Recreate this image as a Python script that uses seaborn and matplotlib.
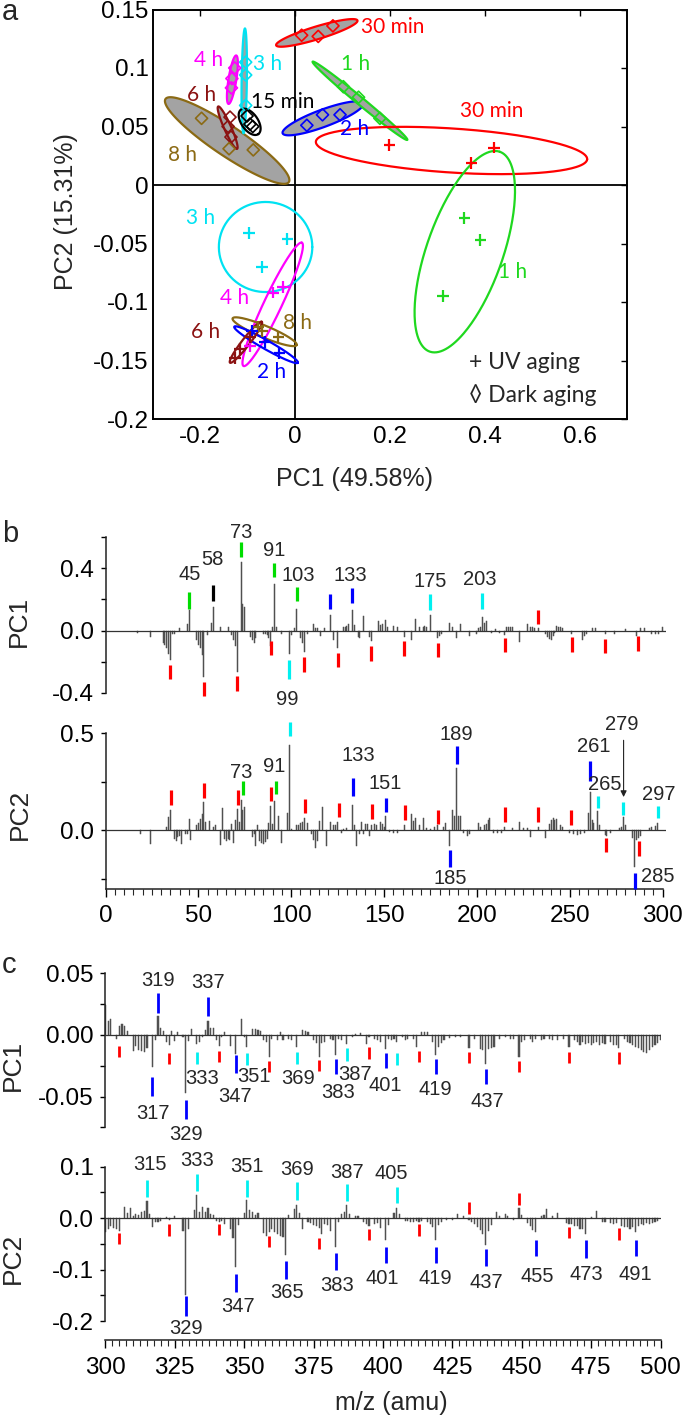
import numpy as np
import matplotlib
matplotlib.use("Agg")
import matplotlib.pyplot as plt
import seaborn as sns
import pandas as pd
from matplotlib import font_manager as fm

sns.set_style("white")
_names = {f.name for f in fm.fontManager.ttflist}
SANS = "Liberation Sans" if "Liberation Sans" in _names else "DejaVu Sans"
CAL = "Lato" if "Lato" in _names else SANS
plt.rcParams["font.family"] = [SANS, "DejaVu Sans"]

# ============ DATA : panel a (PCA scores) ============
groups = ["15 min", "30 min", "1 h", "2 h", "3 h", "4 h", "6 h", "8 h"]
group_colors = ["#000000", "#ff0000", "#1fd81f", "#0000ff", "#00e2f2", "#ff00ff", "#8b1212", "#8b6a14"]

uv_group = ["30 min"]*3 + ["1 h"]*3 + ["3 h"]*3 + ["4 h"]*3 + ["8 h"]*3 + ["2 h"]*3 + ["6 h"]*3
uv_pc1 = [0.199, 0.372, 0.420, 0.357, 0.391, 0.312, -0.097, -0.016, -0.070,
          -0.047, -0.025, -0.095, -0.035, -0.077, -0.070, -0.033, -0.063, -0.090,
          -0.116, -0.095, -0.127]
uv_pc2 = [0.034, 0.019, 0.032, -0.028, -0.047, -0.095, -0.041, -0.046, -0.070,
          -0.092, -0.087, -0.138, -0.130, -0.121, -0.125, -0.144, -0.134, -0.125,
          -0.140, -0.130, -0.148]

dark_group = ["30 min"]*3 + ["1 h"]*3 + ["2 h"]*3 + ["3 h"]*3 + ["4 h"]*3 + ["6 h"]*3 + ["8 h"]*3 + ["15 min"]*3
dark_pc1 = [0.014, 0.049, 0.080, 0.102, 0.134, 0.179, 0.025, 0.058, 0.095,
            -0.104, -0.104, -0.104, -0.133, -0.134, -0.127, -0.141, -0.135, -0.137,
            -0.197, -0.139, -0.088, -0.101, -0.095, -0.089]
dark_pc2 = [0.128, 0.127, 0.136, 0.084, 0.075, 0.057, 0.051, 0.060, 0.060,
            0.105, 0.094, 0.068, 0.091, 0.083, 0.100, 0.050, 0.041, 0.058,
            0.057, 0.031, 0.030, 0.059, 0.052, 0.050]

# confidence ellipses: centre, semi-major axis vector (PC1, PC2 units), minor/major ratio
ell_kind = ["Dark"]*8 + ["UV"]*7
ell_group = ["8 h", "6 h", "4 h", "3 h", "15 min", "30 min", "2 h", "1 h",
             "30 min", "1 h", "3 h", "4 h", "8 h", "2 h", "6 h"]
ell_cx = [-0.143, -0.142, -0.132, -0.107, -0.0956, 0.046, 0.059, 0.137,
          0.330, 0.358, -0.062, -0.047, -0.064, -0.061, -0.1035]
ell_cy = [0.038, 0.049, 0.090, 0.089, 0.054, 0.130, 0.057, 0.072,
          0.0295, -0.057, -0.053, -0.102, -0.1254, -0.1365, -0.1344]
ell_d1 = [0.130, -0.0199, 0.0081, 0.0015, 0.0182, 0.0857, 0.085, 0.0998,
          0.286, 0.0739, 0.0985, 0.0615, 0.0675, 0.067, 0.0335]
ell_d2 = [-0.0355, 0.0181, 0.0207, 0.0448, -0.0105, 0.0106, 0.0128, -0.0334,
          -0.0075, 0.0854, 0.0, 0.0527, -0.0114, -0.0154, 0.0175]
ell_ratio = [0.2, 0.15, 0.16, 0.05, 0.55, 0.15, 0.2, 0.06,
             0.162, 0.36, 0.964, 0.13, 0.17, 0.12, 0.15]

a_labels = [("30 min", 0.206, 0.135), ("1 h", 0.127, 0.103), ("4 h", -0.183, 0.107),
            ("3 h", -0.058, 0.103), ("6 h", -0.197, 0.077), ("15 min", -0.026, 0.071),
            ("30 min", 0.414, 0.063), ("2 h", 0.125, 0.048), ("8 h", -0.238, 0.026),
            ("3 h", -0.199, -0.028), ("1 h", 0.458, -0.074), ("4 h", -0.127, -0.097),
            ("8 h", 0.005, -0.118), ("6 h", -0.188, -0.126), ("2 h", -0.049, -0.160)]

# ============ DATA : panel b (loadings, m/z 0-300) ============
b1_peaks = [(17,-0.017),(24,-0.04),(31,-0.08),(32,-0.09),(33,-0.115),(34,-0.15),(35,-0.19),
            (36,-0.02),(37,-0.02),(40,0.015),(44,0.04),(45,0.133),(49,-0.06),(50,-0.09),
            (51,-0.11),(52,-0.16),(53,-0.30),(55,-0.03),(57,0.05),(58,0.15),(62,0.025),
            (66,0.02),(68,-0.03),(69,-0.06),(70,-0.10),(71,-0.265),(73,0.439),(74,0.17),
            (75,0.15),(78,-0.04),(79,-0.06),(80,-0.08),(81,-0.05),(85,-0.02),(86,-0.025),
            (87,-0.03),(88,-0.05),(89,-0.10),(90,0.02),(91,0.30),(92,0.02),(95,-0.02),
            (99,-0.15),(100,-0.03),(102,0.015),(103,0.14),(105,-0.05),(106,-0.08),
            (107,-0.14),(109,-0.02),(112,0.04),(113,0.015),(114,0.015),(116,-0.035),
            (118,0.015),(121,0.10),(123,-0.06),(125,-0.115),(128,0.02),(129,0.025),
            (130,0.03),(131,0.04),(133,0.13),(134,0.035),(136,-0.04),(137,-0.05),
            (139,0.095),(142,-0.04),(143,-0.07),(147,0.06),(148,0.035),(149,0.04),
            (151,0.07),(152,0.025),(155,0.03),(157,0.02),(161,-0.04),(165,-0.06),
            (167,0.075),(169,0.025),(171,0.02),(172,0.03),(173,0.02),(175,0.097),
            (179,-0.05),(180,-0.035),(181,-0.025),(185,0.05),(187,0.02),(189,-0.047),
            (191,0.04),(196,-0.035),(200,-0.025),(201,0.015),(202,0.02),(203,0.088),
            (204,0.05),(205,0.06),(208,-0.015),(210,0.01),(212,-0.015),(215,-0.03),
            (216,0.02),(217,0.025),(218,0.02),(219,0.02),(223,-0.075),(227,0.045),
            (229,0.02),(230,0.025),(231,0.015),(233,0.018),(237,-0.025),(238,-0.04),
            (239,-0.054),(240,-0.058),(241,-0.036),(242,-0.015),(243,0.03),(244,0.025),
            (245,0.02),(246,0.015),(251,-0.02),(257,-0.058),(258,-0.032),(259,-0.02),
            (262,0.015),(264,0.015),(269,-0.025),(274,-0.025),(280,0.01),(286,-0.037),
            (288,0.015),(290,0.015),(294,-0.02),(296,-0.02),(298,-0.02),(300,0.02)]

b2_peaks = [(19,-0.017),(24,-0.072),(33,0.017),(34,0.069),(35,0.107),(37,-0.043),(38,-0.055),
            (39,-0.034),(40,-0.03),(41,-0.069),(43,-0.017),(44,-0.02),(45,0.06),(46,-0.048),
            (49,0.026),(50,0.04),(51,0.06),(52,0.085),(53,0.146),(54,0.045),(56,0.048),
            (58,0.017),(59,0.03),(62,-0.077),(63,0.115),(64,-0.043),(65,-0.052),(66,-0.043),
            (67,-0.048),(68,0.031),(69,-0.064),(70,0.052),(71,0.108),(72,0.043),(73,0.155),
            (74,0.103),(75,0.12),(79,-0.034),(80,-0.017),(81,-0.082),(82,0.026),(83,-0.052),
            (84,-0.065),(85,-0.069),(86,-0.06),(87,-0.043),(88,0.038),(89,0.125),(90,0.034),
            (91,0.15),(93,0.074),(95,-0.065),(98,0.089),(99,0.44),(100,0.01),(103,0.026),
            (104,0.03),(105,0.038),(106,0.043),(107,0.065),(109,0.038),(111,-0.017),
            (112,-0.048),(113,-0.089),(114,-0.055),(115,0.048),(117,0.12),(119,-0.081),
            (121,0.046),(123,0.026),(124,0.026),(125,0.043),(127,-0.014),(128,0.01),
            (130,0.014),(133,0.129),(134,0.03),(135,-0.082),(137,-0.02),(138,0.043),
            (139,-0.017),(140,0.031),(141,0.034),(142,-0.026),(143,0.026),(145,0.031),
            (146,0.026),(148,0.043),(149,0.034),(150,0.02),(151,0.077),(153,-0.01),
            (155,-0.014),(157,-0.012),(161,0.03),(165,0.084),(166,0.05),(167,0.064),
            (169,0.03),(171,0.064),(173,0.012),(175,0.01),(177,0.02),(179,0.03),(182,0.02),
            (183,0.038),(185,-0.082),(187,0.107),(188,0.076),(189,0.321),(190,0.076),
            (191,0.076),(193,-0.014),(195,-0.026),(196,-0.02),(201,0.038),(202,0.02),
            (204,0.03),(205,0.034),(206,0.055),(207,0.064),(209,-0.014),(211,-0.014),
            (213,-0.012),(215,0.02),(219,0.015),(223,0.046),(225,0.012),(227,0.012),
            (229,-0.031),(233,0.017),(237,-0.04),(239,0.034),(240,0.055),(241,0.064),
            (242,0.055),(243,0.058),(245,0.03),(246,0.02),(250,-0.014),(252,-0.02),
            (254,-0.024),(256,-0.02),(258,-0.012),(260,0.089),(261,0.20),(262,0.055),
            (263,0.038),(265,0.098),(266,0.03),(269,-0.022),(270,-0.027),(272,-0.014),
            (277,0.015),(278,0.017),(279,0.067),(280,0.03),(284,-0.04),(285,-0.186),
            (286,-0.048),(287,-0.04),(288,-0.028),(293,0.012),(294,0.02),(296,0.024),
            (297,0.04)]

# coloured fragment markers: (m/z, low, high, colour key)
b1_marks = [(35,-0.31,-0.22,"r"),(45,0.14,0.245,"g"),(53,-0.42,-0.33,"r"),(58,0.19,0.295,"k"),
            (71,-0.39,-0.29,"r"),(73,0.473,0.568,"g"),(89,-0.16,-0.067,"r"),(91,0.344,0.434,"g"),
            (99,-0.31,-0.19,"c"),(103,0.187,0.28,"g"),(107,-0.265,-0.172,"r"),(121,0.14,0.234,"b"),
            (125,-0.237,-0.142,"r"),(133,0.176,0.271,"b"),(143,-0.194,-0.099,"r"),
            (161,-0.161,-0.069,"r"),(175,0.135,0.232,"c"),(179,-0.172,-0.08,"r"),
            (203,0.14,0.243,"c"),(215,-0.14,-0.047,"r"),(233,0.043,0.135,"r"),
            (251,-0.138,-0.043,"r"),(269,-0.144,-0.054,"r"),(287,-0.131,-0.037,"r")]
b2_marks = [(35.3,0.129,0.206,"r"),(53.2,0.168,0.244,"r"),(71.2,0.132,0.206,"r"),(73.9,0.18,0.253,"g"),
            (89.1,0.151,0.223,"r"),(91.6,0.189,0.253,"g"),(99.4,0.485,0.558,"c"),(107.5,0.089,0.163,"r"),
            (125.5,0.069,0.143,"r"),(133.5,0.175,0.27,"b"),(143.3,0.06,0.134,"r"),(151.1,0.095,0.167,"b"),
            (161.3,0.055,0.129,"r"),(179.2,0.033,0.107,"r"),(189.1,0.342,0.433,"b"),(185.3,-0.19,-0.10,"b"),
            (215.1,0.043,0.119,"r"),(233.0,0.043,0.119,"r"),(250.9,0.029,0.107,"r"),(260.9,0.256,0.359,"b"),
            (265.4,0.115,0.179,"c"),(269.4,-0.113,-0.04,"r"),(278.9,0.081,0.144,"c"),(287.3,-0.129,-0.053,"r"),
            (285.2,-0.30,-0.22,"b"),(297.3,0.064,0.127,"c")]
b1_labels = [("45",45.5,0.359),("58",57.4,0.46),("73",73,0.63),("91",91,0.514),("103",104,0.353),
             ("133",132,0.353),("99",98,-0.443),("175",174.7,0.318),("203",201.6,0.329)]
b2_labels = [("73",73,0.297),("91",91,0.33),("133",136,0.387),("151",150.5,0.244),("189",189,0.493),
             ("185",185.5,-0.246),("261",262.7,0.433),("265",269,0.235),("279",278,0.545),
             ("297",297.8,0.184),("285",297.3,-0.237)]

# ============ DATA : panel c (loadings, m/z 300-500) ============
c1_peaks = [(300,0.024),(301,0.011),(302,0.013),(304,-0.003),(305,0.0076),(306,0.0086),(307,0.007),
            (308,0.003),(310,-0.0127),(311,-0.009),(312,-0.012),(313,-0.0127),(314,-0.014),
            (315,-0.011),(317,-0.026),(318,-0.004),(319,0.015),(320,0.0054),(321,0.0035),
            (322,-0.0054),(323,-0.008),(324,0.0035),(325,-0.005),(326,0.002),(328,-0.002),
            (329,-0.047),(330,-0.0046),(331,0.005),(333,-0.0073),(334,-0.0054),(335,-0.002),
            (336,0.004),(337,0.011),(338,0.0054),(339,0.0054),(340,-0.004),(341,-0.009),
            (342,-0.002),(343,0.0022),(345,-0.009),(347,-0.0154),(349,0.0127),(350,-0.002),
            (351,-0.01),(353,0.005),(354,0.005),(355,0.004),(356,0.003),(357,-0.004),
            (358,-0.0054),(359,-0.0176),(360,-0.003),(362,-0.004),(363,0.002),(364,-0.004),
            (366,-0.003),(367,-0.004),(369,-0.01),(371,0.004),(372,0.0035),(373,0.0027),
            (375,-0.004),(376,-0.0067),(377,-0.0176),(378,-0.0062),(379,-0.0054),(381,-0.003),
            (382,-0.004),(383,-0.016),(384,-0.003),(385,-0.004),(387,-0.0073),(389,-0.002),
            (390,0.001),(392,0.0015),(394,-0.0073),(395,-0.002),(397,-0.003),(398,-0.004),
            (399,-0.0054),(401,-0.0116),(402,-0.003),(403,-0.004),(404,-0.003),(405,-0.0054),
            (407,-0.002),(408,-0.004),(409,-0.0035),(411,-0.003),(412,-0.0095),(414,0.002),
            (415,0.0027),(416,0.0027),(418,-0.0054),(419,-0.016),(420,-0.0095),(421,-0.0067),
            (422,-0.004),(424,-0.0027),(426,-0.002),(428,-0.002),(431,-0.0108),(433,-0.003),
            (435,-0.0116),(436,-0.012),(437,-0.0235),(438,-0.0116),(439,-0.0108),(440,-0.01),
            (442,-0.003),(444,-0.002),(446,-0.003),(447,-0.003),(449,-0.0176),(450,-0.0054),
            (451,-0.004),(453,-0.003),(454,-0.0054),(455,-0.003),(457,-0.004),(458,-0.003),
            (460,-0.0035),(461,-0.004),(463,-0.004),(465,-0.003),(467,-0.01),(469,-0.004),
            (470,-0.0054),(471,-0.008),(472,-0.0054),(473,-0.0073),(474,-0.0067),(475,-0.008),
            (476,-0.0062),(477,-0.0054),(478,-0.008),(479,-0.0067),(480,-0.0073),(482,-0.006),
            (483,-0.0081),(484,-0.008),(485,-0.0108),(487,-0.0035),(488,-0.0054),(489,-0.0067),
            (490,-0.0081),(491,-0.0095),(492,-0.0108),(493,-0.0122),(494,-0.0135),(495,-0.0149),
            (496,-0.0122),(497,-0.0095),(498,-0.0081),(499,-0.0068),(500,-0.004)]

c2_peaks = [(300,-0.027),(301,-0.021),(302,-0.016),(303,-0.019),(304,-0.021),(305,-0.024),
            (307,0.021),(308,0.0097),(309,0.019),(310,0.005),(311,0.008),(312,0.007),(313,0.013),
            (314,0.014),(315,0.034),(316,0.009),(317,-0.017),(318,-0.008),(319,-0.008),(320,-0.005),
            (322,0.003),(323,-0.004),(325,0.004),(328,-0.024),(329,-0.149),(330,-0.021),(332,0.015),
            (333,0.045),(334,0.012),(335,0.021),(336,0.013),(337,0.02),(338,0.008),(339,0.006),
            (340,-0.005),(341,-0.008),(342,-0.005),(343,-0.011),(345,-0.021),(346,-0.038),
            (347,-0.095),(348,-0.014),(350,0.0097),(351,0.036),(352,0.016),(353,0.012),(354,0.007),
            (355,0.0097),(357,-0.029),(358,-0.034),(359,-0.027),(360,-0.021),(361,-0.026),
            (362,-0.03),(363,-0.034),(364,-0.037),(365,-0.072),(366,0.007),(368,0.018),(369,0.0265),
            (370,0.0097),(371,-0.02),(373,-0.008),(374,-0.01),(375,-0.014),(376,-0.016),(377,-0.019),
            (378,-0.03),(379,-0.012),(380,-0.014),(381,-0.024),(383,-0.056),(384,-0.008),(385,0.0084),
            (386,0.013),(387,0.0265),(388,0.0084),(390,0.005),(391,0.005),(393,-0.008),(394,-0.012),
            (395,-0.016),(397,-0.011),(398,-0.01),(399,-0.019),(401,-0.043),(402,-0.014),(404,0.0097),
            (405,0.02),(406,0.0084),(408,-0.005),(409,-0.006),(410,-0.008),(411,-0.007),(412,-0.005),
            (413,-0.008),(414,-0.006),(416,-0.008),(417,-0.012),(418,-0.017),(419,-0.043),(420,-0.014),
            (421,-0.008),(423,-0.004),(425,-0.003),(427,0.0084),(429,0.005),(431,-0.003),(432,-0.008),
            (433,-0.012),(434,-0.017),(435,-0.022),(436,-0.03),(437,-0.053),(438,-0.024),(439,-0.014),
            (441,0.013),(442,0.005),(444,0.0084),(445,0.005),(447,-0.003),(449,0.02),(450,0.007),
            (452,-0.01),(453,-0.016),(454,-0.022),(455,-0.027),(457,0.004),(458,0.006),(459,0.018),
            (461,0.004),(463,0.0097),(466,-0.01),(467,-0.011),(468,-0.012),(469,-0.016),(470,-0.016),
            (471,-0.021),(472,-0.02),(473,-0.03),(475,0.003),(477,0.0136),(479,-0.008),(480,-0.008),
            (482,-0.01),(483,-0.012),(484,-0.01),(486,-0.016),(487,-0.017),(488,-0.018),(489,-0.02),
            (490,-0.018),(491,-0.027),(492,-0.015),(493,-0.012),(494,-0.014),(495,-0.01),(496,-0.012),
            (497,-0.01),(498,-0.007),(499,-0.006)]

c1_marks = [(305,-0.0176,-0.0089,"r"),(317,-0.0495,-0.0343,"b"),(319,0.0181,0.0338,"b"),
            (323,-0.0235,-0.0143,"r"),(329,-0.0684,-0.0527,"b"),(333,-0.0235,-0.0135,"c"),
            (337,0.0154,0.0311,"b"),(341,-0.0224,-0.0127,"r"),(347,-0.0311,-0.0162,"b"),
            (351,-0.0243,-0.0149,"c"),(359,-0.030,-0.0208,"r"),(369,-0.0235,-0.0135,"c"),
            (377,-0.0297,-0.0203,"r"),(383,-0.0319,-0.0197,"b"),(387,-0.0208,-0.0108,"c"),
            (395,-0.0195,-0.010,"r"),(401,-0.027,-0.0149,"b"),(405,-0.0243,-0.0149,"c"),
            (413,-0.0216,-0.0127,"r"),(419,-0.0316,-0.0195,"b"),(431,-0.023,-0.014,"r"),
            (437,-0.0397,-0.0278,"b"),(449,-0.0303,-0.0208,"r"),(467,-0.023,-0.0135,"r"),
            (485,-0.0235,-0.014,"r")]
c2_marks = [(305,-0.051,-0.029,"r"),(315,0.041,0.074,"c"),(323,-0.034,-0.012,"r"),
            (329,-0.189,-0.152,"b"),(333,0.052,0.085,"c"),(341,-0.032,-0.011,"r"),
            (347,-0.144,-0.108,"b"),(351,0.041,0.074,"c"),(359,-0.055,-0.034,"r"),
            (365,-0.118,-0.084,"b"),(369,0.036,0.070,"c"),(377,-0.060,-0.038,"r"),
            (383,-0.100,-0.067,"b"),(387,0.034,0.067,"c"),(395,-0.042,-0.021,"r"),
            (401,-0.087,-0.055,"b"),(405,0.029,0.061,"c"),(413,-0.034,-0.012,"r"),
            (419,-0.087,-0.055,"b"),(431,0.0084,0.031,"r"),(437,-0.092,-0.060,"b"),
            (449,0.0265,0.0485,"r"),(455,-0.074,-0.042,"b"),(467,-0.039,-0.0175,"r"),
            (473,-0.077,-0.043,"b"),(485,-0.042,-0.019,"r"),(491,-0.074,-0.042,"b")]
c1_labels = [("319",319,0.044),("337",337,0.0424),("317",317,-0.064),("329",329,-0.081),
             ("333",335,-0.035),("351",353.5,-0.0338),("347",346.7,-0.050),("369",369.4,-0.035),
             ("383",383.7,-0.0468),("387",390,-0.0324),("401",400.7,-0.0414),("419",418.7,-0.0446),
             ("437",437.5,-0.054)]
c2_labels = [("315",316,0.105),("333",333,0.113),("351",351,0.100),("369",369,0.094),
             ("387",387,0.089),("405",403,0.086),("329",329,-0.215),("347",347.7,-0.172),
             ("365",365.5,-0.144),("383",383.6,-0.131),("401",399.7,-0.118),("419",418.8,-0.118),
             ("437",437.4,-0.124),("455",455.5,-0.113),("473",473.4,-0.109),("491",491,-0.109)]

# ============ STYLE ============
MK = {"r": "#ff0000", "g": "#00dd00", "b": "#0000ff", "c": "#00f0f0", "k": "#000000"}
BAR = "#505050"
W, H = 685, 1420
fig = plt.figure(figsize=(W / 100, H / 100), dpi=100)
cmap = dict(zip(groups, group_colors))


def add_ax(l, t, r, b):
    return fig.add_axes([l / W, 1 - b / H, (r - l) / W, (b - t) / H])


def ftext(x, y, s, **kw):
    fig.text(x / W, 1 - y / H, s, **kw)


# ---------------- panel a ----------------
axa = add_ax(152.7, 9.5, 627, 419)
axa.set_xlim(-0.3, 0.7)
axa.set_ylim(-0.2, 0.15)
axa.axhline(0, color="k", lw=1.3, zorder=1)
axa.axvline(0, color="k", lw=1.3, zorder=1)
for sp in axa.spines.values():
    sp.set_linewidth(1.4)
    sp.set_color("k")
axa.set_xticks([-0.2, 0, 0.2, 0.4, 0.6])
axa.set_xticklabels(["-0.2", "0", "0.2", "0.4", "0.6"])
axa.set_yticks([-0.2, -0.15, -0.1, -0.05, 0, 0.05, 0.1, 0.15])
axa.set_yticklabels(["-0.2", "-0.15", "-0.1", "-0.05", "0", "0.05", "0.1", "0.15"])
axa.tick_params(direction="in", length=4, width=1, top=True, right=True,
                labelsize=17.5, pad=5, colors="k")
axa.tick_params(axis="y", pad=3)

T = axa.transData
Tinv = T.inverted()
t = np.linspace(0, 2 * np.pi, 240)
for kind, g, cx, cy, d1, d2, r in zip(ell_kind, ell_group, ell_cx, ell_cy, ell_d1, ell_d2, ell_ratio):
    c = T.transform((cx, cy))
    e = T.transform((cx + d1, cy + d2)) - c
    n = np.array([-e[1], e[0]]) * r
    pts = c + np.outer(np.cos(t), e) + np.outer(np.sin(t), n)
    dpts = Tinv.transform(pts)
    col = cmap[g]
    if kind == "Dark" and g != "15 min":
        axa.fill(dpts[:, 0], dpts[:, 1], facecolor="#a3a3a3", edgecolor=col, lw=1.6, zorder=2)
    else:
        axa.plot(dpts[:, 0], dpts[:, 1], color=col, lw=1.6, zorder=3)

df_dark = pd.DataFrame({"pc1": dark_pc1, "pc2": dark_pc2, "group": dark_group})
sns.scatterplot(data=df_dark, x="pc1", y="pc2", hue="group", palette=cmap, marker="D",
                s=38, linewidth=1.2, legend=False, ax=axa, zorder=4)
pc = axa.collections[-1]
pc.set_edgecolors(pc.get_facecolors())
pc.set_facecolors("none")

df_uv = pd.DataFrame({"pc1": uv_pc1, "pc2": uv_pc2, "group": uv_group})
sns.scatterplot(data=df_uv, x="pc1", y="pc2", hue="group", palette=cmap, marker="+",
                s=70, linewidth=1.6, legend=False, ax=axa, zorder=5)

for s, x, y in a_labels:
    axa.text(x, y, s, color=cmap[s], fontsize=15, family=[CAL, "DejaVu Sans"],
             ha="center", va="center", zorder=6)
axa.text(0.366, -0.152, "+ UV aging", fontsize=16.5, family=[CAL, "DejaVu Sans"],
         ha="left", va="center")
axa.text(0.366, -0.1795, "\u25ca Dark aging", fontsize=16.5, family=[CAL, "DejaVu Sans"],
         ha="left", va="center")
axa.set_xlabel("")
axa.set_ylabel("")
ftext(354, 479, "PC1 (49.58%)", fontsize=18, ha="center", va="center")
ftext(66, 212, "PC2 (15.31%)", fontsize=18, ha="center", va="center", rotation=90)


# ---------------- helpers for loading panels ----------------
def draw_bars(ax, peaks, width):
    mz = [p[0] for p in peaks]
    val = [p[1] for p in peaks]
    sns.barplot(x=mz, y=val, native_scale=True, width=width, color=BAR, saturation=1,
                errorbar=None, linewidth=0.35, edgecolor=BAR, ax=ax, orient="x", zorder=2)
    ax.set_xlabel("")
    ax.set_ylabel("")


def draw_marks(ax, marks, lw):
    ax.vlines([m[0] for m in marks], [m[1] for m in marks], [m[2] for m in marks],
              colors=[MK[m[3]] for m in marks], linewidth=lw, capstyle="butt",
              zorder=5, clip_on=False)


def draw_labels(ax, labels):
    for s, x, y in labels:
        ax.text(x, y, s, fontsize=14.5, ha="center", va="center", zorder=6, clip_on=False)


def style_left(ax, major, minor, labels):
    ax.set_yticks(major)
    ax.set_yticklabels(labels)
    ax.set_yticks(minor, minor=True)
    ax.tick_params(axis="y", which="both", direction="out", length=3.5, width=1,
                   labelsize=17.5, pad=5, left=True, colors="k")
    ax.spines["left"].set_linewidth(1.1)
    ax.spines["left"].set_color("#222222")
    for s in ["top", "right"]:
        ax.spines[s].set_visible(False)


# ---------------- panel b ----------------
axb1 = add_ax(105.5, 537.3, 666.3, 692.7)
draw_bars(axb1, b1_peaks, 0.55)
axb1.set_xlim(0, 302)
axb1.set_ylim(-0.4, 0.6)
axb1.axhline(0, color="#333333", lw=0.9, zorder=3)
style_left(axb1, [-0.4, 0.0, 0.4], [-0.2, 0.2, 0.6], ["-0.4", "0.0", "0.4"])
axb1.spines["bottom"].set_visible(False)
axb1.set_xticks([])
draw_marks(axb1, b1_marks, 2.3)
draw_labels(axb1, b1_labels)

axb2 = add_ax(105.5, 733.3, 666.3, 888.8)
draw_bars(axb2, b2_peaks, 0.55)
axb2.set_xlim(0, 302)
axb2.set_ylim(-0.3, 0.5)
axb2.axhline(0, color="#333333", lw=0.9, zorder=3)
style_left(axb2, [0.0, 0.5], [-0.25, 0.25], ["0.0", "0.5"])
axb2.spines["bottom"].set_bounds(0, 300)
axb2.spines["bottom"].set_linewidth(1.1)
axb2.spines["bottom"].set_color("#222222")
axb2.set_xticks(np.arange(0, 301, 50))
axb2.set_xticklabels([str(v) for v in range(0, 301, 50)])
axb2.set_xticks(np.arange(0, 301, 5), minor=True)
axb2.tick_params(axis="x", which="major", direction="out", length=6, width=1,
                 labelsize=17.5, pad=6, bottom=True, colors="k")
axb2.tick_params(axis="x", which="minor", direction="out", length=4, width=0.8, bottom=True)
draw_marks(axb2, b2_marks, 2.3)
draw_labels(axb2, b2_labels)
axb2.annotate("", xy=(279, 0.172), xytext=(279, 0.464),
              arrowprops=dict(arrowstyle="-|>", color="#222222", lw=0.8,
                              mutation_scale=9, shrinkA=0, shrinkB=0), zorder=6)

# ---------------- panel c ----------------
axc1 = add_ax(105.3, 973.3, 661.4, 1127.3)
draw_bars(axc1, c1_peaks, 0.4)
axc1.set_xlim(300, 500.3)
axc1.set_ylim(-0.075, 0.05)
axc1.axhline(0, color="#333333", lw=0.9, zorder=3)
style_left(axc1, [-0.05, 0.0, 0.05], [-0.075, -0.025, 0.025], ["-0.05", "0.00", "0.05"])
axc1.spines["bottom"].set_visible(False)
axc1.set_xticks([])
draw_marks(axc1, c1_marks, 2.0)
draw_labels(axc1, c1_labels)

axc2 = add_ax(105.3, 1166.7, 661.4, 1340)
draw_bars(axc2, c2_peaks, 0.4)
axc2.set_xlim(300, 500.3)
axc2.set_ylim(-0.2365, 0.1)
axc2.axhline(0, color="#333333", lw=0.9, zorder=3)
style_left(axc2, [-0.2, -0.1, 0.0, 0.1], [-0.15, -0.05, 0.05], ["-0.2", "-0.1", "0.0", "0.1"])
axc2.spines["left"].set_bounds(-0.2, 0.1)
axc2.spines["bottom"].set_bounds(300, 500)
axc2.spines["bottom"].set_linewidth(1.1)
axc2.spines["bottom"].set_color("#222222")
axc2.set_xticks(np.arange(300, 501, 25))
axc2.set_xticklabels([str(v) for v in range(300, 501, 25)])
axc2.set_xticks(np.arange(300, 500.1, 2.5), minor=True)
axc2.tick_params(axis="x", which="major", direction="out", length=6, width=1,
                 labelsize=17.5, pad=6, bottom=True, colors="k")
axc2.tick_params(axis="x", which="minor", direction="out", length=4, width=0.8, bottom=True)
draw_marks(axc2, c2_marks, 2.0)
draw_labels(axc2, c2_labels)

# ---------------- figure texts ----------------
ftext(2, 20, "a", fontsize=21, ha="left", va="baseline")
ftext(2, 542, "b", fontsize=21, ha="left", va="baseline")
ftext(2, 973, "c", fontsize=21, ha="left", va="baseline")
ftext(19, 621, "PC1", fontsize=19, ha="center", va="center", rotation=90)
ftext(20, 814, "PC2", fontsize=19, ha="center", va="center", rotation=90)
ftext(13, 1065, "PC1", fontsize=19, ha="center", va="center", rotation=90)
ftext(13, 1258, "PC2", fontsize=19, ha="center", va="center", rotation=90)
ftext(391, 1403, "m/z (amu)", fontsize=18, ha="center", va="center")

fig.savefig("out.png", dpi=100, facecolor="white")
